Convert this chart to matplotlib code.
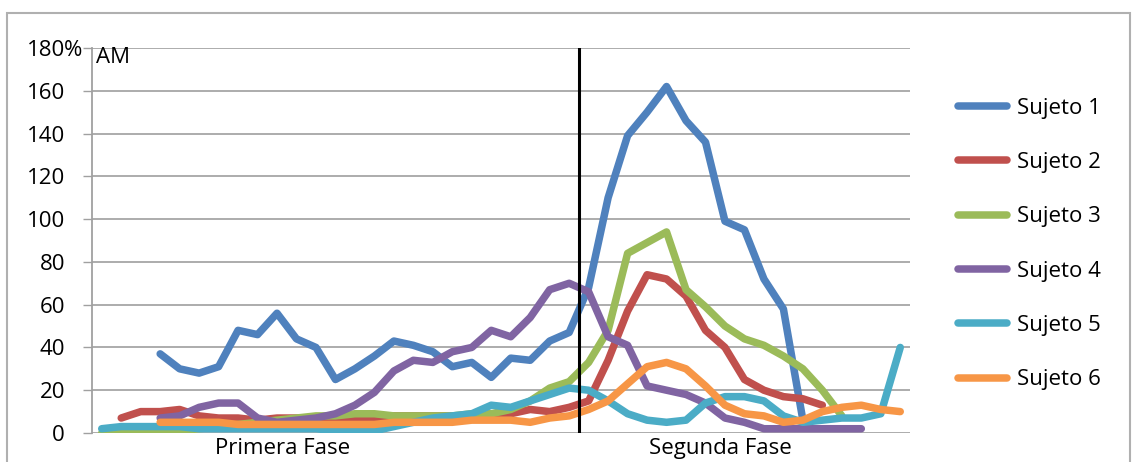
import numpy as np
import matplotlib
matplotlib.use("Agg")
import matplotlib.pyplot as plt
from matplotlib.patches import Rectangle

# values, one per session (42 sessions), None = no data
subjects = ["Sujeto 1", "Sujeto 2", "Sujeto 3", "Sujeto 4", "Sujeto 5", "Sujeto 6"]

sujeto1 = [None, None, None, 37, 30, 28, 31, 48, 46, 56, 44, 40, 25, 30, 36, 43, 41, 38, 31, 33, 26,
           35, 34, 43, 47, 68, 110, 139, 150, 162, 146, 136, 99, 95, 72, 58, 6,
           None, None, None, None, None]
sujeto2 = [None, 7, 10, 10, 11, 8, 7, 7, 6, 7, 7, 7, 7, 7, 7, 8, 8, 8, 8, 8, 8,
           9, 11, 10, 12, 15, 34, 57, 74, 72, 64, 48, 40, 25, 20, 17, 16, 13,
           None, None, None, None]
sujeto3 = [0, 0, 1, 1, 1, 2, 3, 4, 5, 6, 7, 8, 8, 9, 9, 8, 8, 8, 8, 9, 9,
           11, 15, 21, 24, 33, 48, 84, 89, 94, 67, 59, 50, 44, 41, 36, 30, 20, 8,
           None, None, None]
sujeto4 = [None, None, None, 7, 8, 12, 14, 14, 7, 5, 6, 7, 9, 13, 19, 29, 34, 33, 38, 40, 48,
           45, 54, 67, 70, 66, 45, 41, 22, 20, 18, 14, 7, 5, 2, 2, 2, 2, 2, 2,
           None, None]
sujeto5 = [2, 3, 3, 3, 3, 2, 2, 2, 2, 2, 2, 2, 1, 1, 1, 3, 5, 7, 8, 9, 13,
           12, 15, 18, 21, 20, 15, 9, 6, 5, 6, 14, 17, 17, 15, 8, 5, 6, 7, 7, 9, 40]
sujeto6 = [None, None, None, 5, 5, 5, 5, 4, 4, 4, 4, 4, 4, 4, 4, 5, 5, 5, 5, 6, 6,
           6, 5, 7, 8, 11, 15, 23, 31, 33, 30, 22, 13, 9, 8, 5, 6, 10, 12, 13, 11, 10]

series = [sujeto1, sujeto2, sujeto3, sujeto4, sujeto5, sujeto6]
colors = ["#4F81BD", "#C0504D", "#9BBB59", "#8064A2", "#4BACC6", "#F79646"]

phases = ["Primera Fase", "Segunda Fase"]
phase_centers = [9.26, 31.75]
phase_split = 24.5

yticks = [0, 20, 40, 60, 80, 100, 120, 140, 160, 180]

plt.rcParams["font.family"] = ["Open Sans", "DejaVu Sans"]
fs = 16

fig = plt.figure(figsize=(11.32, 4.62), dpi=100)
ax = fig.add_axes([92 / 1132, 1 - 433 / 462, 818 / 1132, 385 / 462])

x = np.arange(len(sujeto1))
for name, vals, c in zip(subjects, series, colors):
    y = np.array([np.nan if v is None else v for v in vals], dtype=float)
    ax.plot(x, y, color=c, lw=5.4, label=name,
            solid_capstyle="round", solid_joinstyle="round")

ax.axvline(phase_split, color="black", lw=2.2, zorder=5)

ax.set_xlim(-0.5, len(x) - 0.5)
ax.set_ylim(0, 180)
ax.set_yticks(yticks)
ax.set_yticklabels([str(t) for t in yticks])
ax.tick_params(axis="y", length=6.5, width=1, color="#a0a0a0", pad=13, labelsize=fs)
ax.set_xticks([])
ax.yaxis.grid(True, color="#a6a6a6", lw=1.3)
ax.set_axisbelow(True)
for s in ["top", "right", "bottom"]:
    ax.spines[s].set_visible(False)
ax.spines["left"].set_color("#a0a0a0")
ax.spines["left"].set_linewidth(1.3)

# "%" after the top tick label and the unit label
ax.text(-0.034, 1.0, "%", transform=ax.transAxes, ha="left", va="center_baseline", fontsize=fs)
ax.text(0.005, 0.962, "AM", transform=ax.transAxes, ha="left", va="baseline", fontsize=fs)

for lab, cx in zip(phases, phase_centers):
    ax.text(cx, -0.04, lab, transform=ax.get_xaxis_transform(),
            ha="center", va="center", fontsize=fs)

leg = fig.legend(loc="center left", bbox_to_anchor=(958 / 1132, 1 - 244 / 462),
                 frameon=False, handlelength=2.2, handletextpad=0.45,
                 labelspacing=1.50, borderpad=0, borderaxespad=0, fontsize=fs)
for h in leg.get_lines():
    h.set_solid_capstyle("round")

fig.patches.append(Rectangle((7 / 1132, -0.05), 1123 / 1132, 1.05 - 13 / 462,
                             transform=fig.transFigure, fill=False,
                             edgecolor="#b0b0b0", lw=1.5))

fig.savefig("out.png", dpi=100)
